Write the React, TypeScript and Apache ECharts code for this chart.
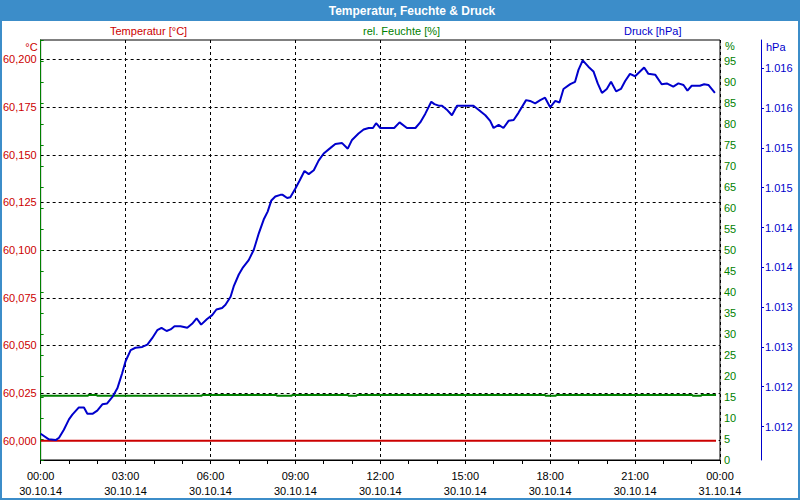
import React, { useEffect, useRef } from 'react';
import * as echarts from 'echarts';

const TITLE = 'Temperatur, Feuchte & Druck';
const SERIES_TEMP = 'Temperatur [°C]';
const SERIES_HUM = 'rel. Feuchte [%]';
const SERIES_PRES = 'Druck [hPa]';
const UNIT_HUM = '%';

// x axis labels (every 3 hours)
const xTimeLabels = ['00:00', '03:00', '06:00', '09:00', '12:00', '15:00', '18:00', '21:00', '00:00'];
const xDateLabels = ['30.10.14', '30.10.14', '30.10.14', '30.10.14', '30.10.14', '30.10.14', '30.10.14', '30.10.14', '31.10.14'];

// left axis tick values (°C)
const tempTicks = [60.0, 60.025, 60.05, 60.075, 60.1, 60.125, 60.15, 60.175, 60.2];
// blue axis tick values (hPa)
const pressureTicks = [1011.5, 1012, 1012.5, 1013, 1013.5, 1014, 1014.5, 1015, 1015.5, 1016];

// temperature
const tempHours = [0, 6, 12, 18, 23.86];
const tempValues = [60.0, 60.0, 60.0, 60.0, 60.0];

// humidity (step series)
const humHours = [0, 1.68, 1.99, 5.7, 8.34, 8.88, 10.87, 11.17, 17.83, 18.21, 23.03, 23.34, 23.86];
const humValues = [15.3, 15.5, 15.3, 15.5, 15.3, 15.5, 15.3, 15.5, 15.3, 15.5, 15.3, 15.5, 15.5];

// pressure
const pressureHours = [
  0.0, 0.29, 0.53, 0.65, 0.82, 1.0, 1.12, 1.35, 1.53, 1.65, 1.83, 2.0, 2.18, 2.35, 2.55, 2.71, 2.88,
  3.0, 3.18, 3.35, 3.59, 3.77, 3.94, 4.12, 4.27, 4.45, 4.59, 4.73, 4.94, 5.18, 5.35, 5.51, 5.67, 5.88,
  6.06, 6.21, 6.41, 6.53, 6.71, 6.82, 7.0, 7.15, 7.35, 7.53, 7.71, 7.88, 8.02, 8.15, 8.29, 8.47, 8.55,
  8.71, 8.82, 9.0, 9.15, 9.32, 9.47, 9.65, 9.82, 10.0, 10.24, 10.41, 10.65, 10.85, 11.0, 11.23, 11.41,
  11.59, 11.74, 11.85, 12.0, 12.49, 12.68, 12.94, 13.24, 13.41, 13.59, 13.8, 13.91, 14.06, 14.18, 14.35,
  14.53, 14.71, 15.29, 15.47, 15.71, 15.88, 16.0, 16.18, 16.35, 16.53, 16.71, 16.88, 17.15, 17.29, 17.47,
  17.65, 17.82, 18.0, 18.18, 18.33, 18.47, 18.71, 18.88, 19.0, 19.15, 19.35, 19.53, 19.68, 19.83, 20.0,
  20.15, 20.33, 20.5, 20.65, 20.82, 21.0, 21.32, 21.47, 21.71, 21.94, 22.12, 22.35, 22.53, 22.71, 22.85,
  23.0, 23.29, 23.44, 23.59, 23.82,
];
const pressureValues = [
  1011.41, 1011.34, 1011.33, 1011.36, 1011.46, 1011.59, 1011.65, 1011.74, 1011.74, 1011.66, 1011.66, 1011.7,
  1011.78, 1011.79, 1011.88, 1011.98, 1012.17,
  1012.32, 1012.46, 1012.49, 1012.5, 1012.53, 1012.61, 1012.71, 1012.74, 1012.7, 1012.72, 1012.76, 1012.76,
  1012.74, 1012.79, 1012.86, 1012.78, 1012.85,
  1012.9, 1012.97, 1012.99, 1013.03, 1013.13, 1013.26, 1013.41, 1013.5, 1013.59, 1013.72, 1013.93, 1014.1,
  1014.2, 1014.34, 1014.39, 1014.41, 1014.41,
  1014.37, 1014.38, 1014.49, 1014.59, 1014.71, 1014.67, 1014.72, 1014.84, 1014.93, 1015.0, 1015.05, 1015.06,
  1014.99, 1015.1, 1015.18, 1015.23,
  1015.25, 1015.25, 1015.31, 1015.25, 1015.25, 1015.32, 1015.25, 1015.25, 1015.32, 1015.43, 1015.58, 1015.55,
  1015.53, 1015.53, 1015.48,
  1015.41, 1015.53, 1015.53, 1015.48, 1015.41, 1015.34, 1015.25, 1015.29, 1015.25, 1015.34, 1015.35, 1015.44,
  1015.6, 1015.59, 1015.56,
  1015.6, 1015.63, 1015.51, 1015.59, 1015.57, 1015.74, 1015.8, 1015.83, 1015.98, 1016.1, 1016.02, 1015.96,
  1015.81, 1015.69, 1015.74,
  1015.83, 1015.71, 1015.74, 1015.84, 1015.93, 1015.9, 1016.01, 1015.93, 1015.92, 1015.8, 1015.81, 1015.77,
  1015.81, 1015.79, 1015.72,
  1015.78, 1015.78, 1015.8, 1015.79, 1015.69,
];

const RED = '#CC0000';
const GREEN = '#008000';
const BLUE = '#0000CC';
const FRAME = '#3C8DC9';
const FONT = 'Liberation Sans';

const zip = (a: number[], b: number[]) => a.map((v, i) => [v, b[i]]);

export default function App() {
  const ref = useRef<HTMLDivElement>(null);

  useEffect(() => {
    if (!ref.current) return;
    const chart = echarts.init(ref.current, null, { renderer: 'svg' });
    const dashed = { color: '#000', width: 1, type: [3, 3] as number[] };

    chart.setOption({
      animation: false,
      backgroundColor: '#fff',
      textStyle: { fontFamily: FONT, fontSize: 11 },
      graphic: [
        { type: 'rect', silent: true, shape: { x: 0, y: 0, width: 800, height: 21 }, style: { fill: FRAME } },
        {
          type: 'rect', silent: true, z: 100,
          shape: { x: 1, y: 1, width: 798, height: 498 },
          style: { fill: 'none', stroke: FRAME, lineWidth: 2 },
        },
        {
          type: 'text', silent: true, x: 412, y: 11,
          style: {
            text: TITLE, fill: '#fff', font: `bold 12px "${FONT}"`,
            textAlign: 'center', textVerticalAlign: 'middle', align: 'center', verticalAlign: 'middle',
          },
        },
        {
          type: 'text', silent: true, x: 725, y: 46,
          style: {
            text: UNIT_HUM, fill: GREEN, font: `11px "${FONT}"`,
            textAlign: 'left', textVerticalAlign: 'middle', align: 'left', verticalAlign: 'middle',
          },
        },
      ],
      legend: [
        { data: [SERIES_TEMP], left: 105, top: 24, icon: 'none', itemWidth: 0, selectedMode: false, padding: 0, textStyle: { color: RED, fontSize: 11, fontFamily: FONT } },
        { data: [SERIES_HUM], left: 358, top: 24, icon: 'none', itemWidth: 0, selectedMode: false, padding: 0, textStyle: { color: GREEN, fontSize: 11, fontFamily: FONT } },
        { data: [SERIES_PRES], left: 619, top: 24, icon: 'none', itemWidth: 0, selectedMode: false, padding: 0, textStyle: { color: BLUE, fontSize: 11, fontFamily: FONT } },
      ],
      grid: { left: 40, right: 80, top: 40, bottom: 40, show: true, borderColor: '#000', borderWidth: 1, backgroundColor: '#fff' },
      xAxis: [
        {
          type: 'value', min: 0, max: 24, interval: 3, position: 'bottom',
          axisLine: { show: true, lineStyle: { color: '#000', width: 1 } },
          axisTick: { show: false },
          axisLabel: {
            color: '#000', margin: 8, lineHeight: 15, fontSize: 11, fontFamily: FONT,
            showMinLabel: true, showMaxLabel: true,
            formatter: (v: number) => {
              const i = Math.round(v / 3);
              return `${xTimeLabels[i]}\n${xDateLabels[i]}`;
            },
          },
          splitLine: { show: true, lineStyle: dashed },
        },
        {
          type: 'value', min: 0, max: 24, interval: 1, position: 'bottom',
          axisLine: { show: false },
          axisTick: { show: true, length: 4, lineStyle: { color: '#000' } },
          axisLabel: { show: false },
          splitLine: { show: false },
        },
      ],
      yAxis: [
        {
          type: 'value', position: 'left', min: 59.9899, max: 60.2102,
          axisLine: { show: true, lineStyle: { color: '#000', width: 1 } },
          axisTick: { show: false, customValues: tempTicks },
          axisLabel: {
            customValues: tempTicks, color: RED, margin: 4, fontSize: 11, fontFamily: FONT,
            formatter: (v: number) => v.toFixed(3).replace('.', ','),
          },
          splitLine: { show: true, lineStyle: dashed },
          name: '°C', nameLocation: 'end', nameGap: 0, nameMoveOverlap: false,
          nameTextStyle: { color: RED, align: 'right', verticalAlign: 'top', padding: [1, 3, 0, 0], fontSize: 11, fontFamily: FONT },
        },
        {
          type: 'value', position: 'right', min: 0, max: 100, interval: 5,
          axisLine: { show: true, lineStyle: { color: GREEN, width: 1 } },
          axisTick: { show: true, length: 3, lineStyle: { color: GREEN } },
          axisLabel: {
            color: GREEN, margin: 4, fontSize: 11, fontFamily: FONT,
            formatter: (v: number) => (v >= 100 ? '' : String(v)),
          },
          splitLine: { show: false },
        },
        {
          type: 'value', position: 'right', offset: 41, min: 1011.08, max: 1016.355,
          axisLine: { show: true, lineStyle: { color: BLUE, width: 1 } },
          axisTick: { show: true, length: 3, customValues: pressureTicks, lineStyle: { color: BLUE } },
          axisLabel: {
            customValues: pressureTicks, color: BLUE, margin: 4, fontSize: 11, fontFamily: FONT,
            formatter: (v: number) => {
              const r = String(Math.round(v));
              return r.slice(0, r.length - 3) + '.' + r.slice(r.length - 3);
            },
          },
          splitLine: { show: false },
          name: 'hPa', nameLocation: 'end', nameGap: 0, nameMoveOverlap: false,
          nameTextStyle: { color: BLUE, align: 'left', verticalAlign: 'top', padding: [1, 0, 0, 5], fontSize: 11, fontFamily: FONT },
        },
      ],
      series: [
        {
          name: SERIES_TEMP, type: 'line', xAxisIndex: 0, yAxisIndex: 0,
          data: zip(tempHours, tempValues), symbol: 'none', showSymbol: false,
          lineStyle: { color: RED, width: 2 }, itemStyle: { color: RED },
        },
        {
          name: SERIES_HUM, type: 'line', xAxisIndex: 0, yAxisIndex: 1, step: 'end',
          data: zip(humHours, humValues), symbol: 'none', showSymbol: false,
          lineStyle: { color: GREEN, width: 2 }, itemStyle: { color: GREEN },
        },
        {
          name: SERIES_PRES, type: 'line', xAxisIndex: 0, yAxisIndex: 2,
          data: zip(pressureHours, pressureValues), symbol: 'none', showSymbol: false,
          lineStyle: { color: BLUE, width: 2 }, itemStyle: { color: BLUE },
        },
      ],
    });

    return () => chart.dispose();
  }, []);

  return <div ref={ref} style={{ position: 'fixed', left: 0, top: 0, width: 800, height: 500 }} />;
}
